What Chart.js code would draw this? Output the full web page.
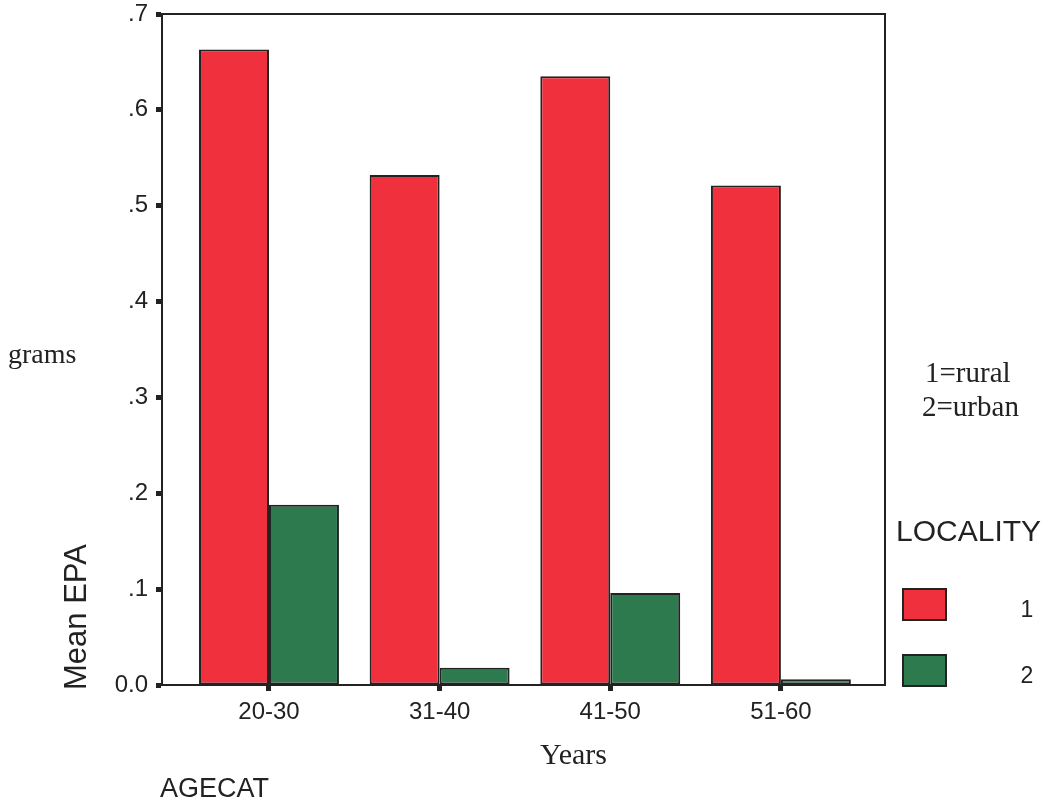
<!DOCTYPE html>
<html>
<head>
<meta charset="utf-8">
<script src="https://cdn.jsdelivr.net/npm/chart.js@4"></script>
<style>
  body { margin: 0; background: #fff; }
  #wrap { width: 1058px; height: 807px; }
</style>
</head>
<body>
<div id="wrap"><canvas id="chart" width="1058" height="807"></canvas></div>
<script>
// === Data ===
const categories = ["20-30", "31-40", "41-50", "51-60"];
const rural = [0.663, 0.532, 0.635, 0.521];
const urban = [0.188, 0.018, 0.096, 0.006];
const seriesNames = ["1", "2"];
const yTickLabels = ["0.0", ".1", ".2", ".3", ".4", ".5", ".6", ".7"];

const INK = "#222";
const RED = "#F0303C";
const GREEN = "#2E7A4F";

const toPoints = arr => arr.map((v, i) => ({ x: i + 1, y: v }));

// === Extra text, legend and frame ===
const decor = {
  id: "decor",
  afterDraw(chart) {
    const ctx = chart.ctx;
    const a = chart.chartArea;
    ctx.save();
    // frame around plot
    ctx.strokeStyle = INK;
    ctx.lineWidth = 2;
    ctx.strokeRect(a.left, a.top, a.right - a.left, a.bottom - a.top);

    ctx.fillStyle = INK;
    ctx.textBaseline = "alphabetic";
    ctx.textAlign = "left";
    ctx.font = "28px 'Liberation Serif'";
    ctx.fillText("grams", 8, 363);
    ctx.font = "30px 'Liberation Serif'";
    ctx.fillText("Years", 540, 764);
    ctx.font = "29px 'Liberation Serif'";
    ctx.fillText("1=rural", 925, 382);
    ctx.fillText("2=urban", 922, 416);
    ctx.font = "27px 'Liberation Sans'";
    ctx.fillText("AGECAT", 160, 797);
    ctx.font = "30px 'Liberation Sans'";
    ctx.fillText("LOCALITY", 896, 541);

    // y title
    ctx.save();
    ctx.translate(86, 690);
    ctx.rotate(-Math.PI / 2);
    ctx.font = "31px 'Liberation Sans'";
    ctx.fillText("Mean EPA", 0, 0);
    ctx.restore();

    // legend
    const rows = [604, 670];
    ctx.font = "23px 'Liberation Sans'";
    ctx.textAlign = "center";
    ctx.textBaseline = "middle";
    chart.data.datasets.forEach((ds, i) => {
      ctx.fillStyle = ds.backgroundColor;
      ctx.fillRect(903, rows[i] - 15, 43, 31);
      ctx.strokeStyle = INK;
      ctx.lineWidth = 2;
      ctx.strokeRect(903, rows[i] - 15, 43, 31);
      ctx.fillStyle = INK;
      ctx.fillText(ds.label, 1027, rows[i] + 7);
    });
    ctx.restore();
  }
};

const ctx = document.getElementById("chart").getContext("2d");
new Chart(ctx, {
  type: "bar",
  data: {
    datasets: [
      { label: seriesNames[0], data: toPoints(rural), backgroundColor: RED },
      { label: seriesNames[1], data: toPoints(urban), backgroundColor: GREEN }
    ]
  },
  options: {
    responsive: false,
    animation: false,
    layout: { padding: { left: 0, top: 14, right: 173, bottom: 0 } },
    datasets: {
      bar: {
        borderColor: INK,
        borderWidth: 2,
        borderSkipped: false,
        categoryPercentage: 0.82,
        barPercentage: 1
      }
    },
    plugins: { legend: { display: false }, tooltip: { enabled: false } },
    scales: {
      x: {
        type: "linear",
        offset: false,
        min: 0.373,
        max: 4.61,
        afterBuildTicks: s => { s.ticks = categories.map((_, i) => ({ value: i + 1 })); },
        afterFit: s => { s.height = 122; s.paddingLeft = 0; s.paddingRight = 0; },
        border: { display: true, color: INK, width: 2 },
        grid: { drawOnChartArea: false, offset: false, tickLength: 6, tickWidth: 5, tickColor: INK },
        ticks: {
          color: INK,
          font: { family: "'Liberation Sans'", size: 24 },
          padding: 7,
          maxRotation: 0,
          callback: v => categories[v - 1]
        }
      },
      y: {
        min: 0,
        max: 0.7,
        afterFit: s => { s.width = 162; s.paddingTop = 0; s.paddingBottom = 0; },
        border: { display: true, color: INK, width: 2 },
        grid: { drawOnChartArea: false, tickLength: 6, tickWidth: 5, tickColor: INK },
        ticks: {
          stepSize: 0.1,
          color: INK,
          font: { family: "'Liberation Sans'", size: 24 },
          padding: 8,
          callback: (v, i) => yTickLabels[i]
        }
      }
    }
  },
  plugins: [decor]
});
</script>
</body>
</html>
